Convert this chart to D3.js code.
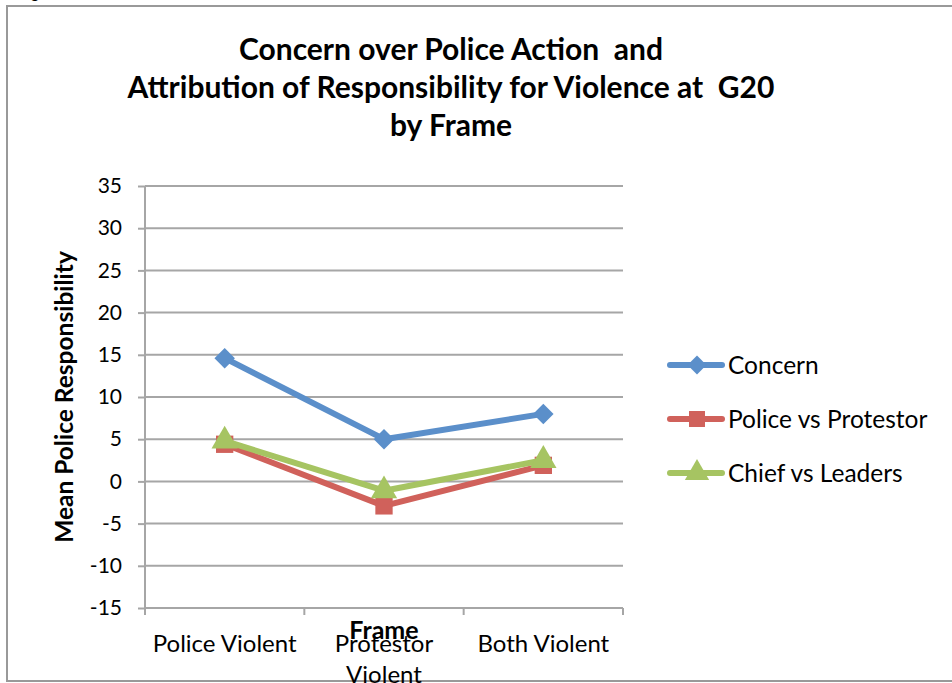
<!DOCTYPE html>
<html>
<head>
<meta charset="utf-8">
<script src="https://cdn.jsdelivr.net/npm/d3@7"></script>
<style>
  body { margin: 0; background: #fff; }
  text { font-family: Lato, "Liberation Sans", sans-serif; fill: #000; white-space: pre; }
</style>
</head>
<body>
<div id="chart-area"></div>
<script>
// data
var frames = ["Police Violent", "Protestor Violent", "Both Violent"];
var seriesNames = ["Concern", "Police vs Protestor", "Chief vs Leaders"];
var concern = [14.6, 5.0, 8.0];
var policeVsProtestor = [4.4, -2.9, 1.9];
var chiefVsLeaders = [4.8, -1.1, 2.5];
var yTicks = [35, 30, 25, 20, 15, 10, 5, 0, -5, -10, -15];
var titleLines = ["Concern over Police Action  and", "Attribution of Responsibility for Violence at  G20", "by Frame"];

var lineColors = ["#5b8fca", "#d0615b", "#a6c462"];
var symbols = [d3.symbolSquare, d3.symbolSquare, d3.symbolTriangle];
var symRotate = [45, 0, 0];
var symSize = [210, 300, 300];
var allSeries = [concern, policeVsProtestor, chiefVsLeaders];

var svg = d3.select("#chart-area").append("svg")
     .attr("width", 952)
     .attr("height", 683);

// outer chart frame
svg.append("rect")
     .attr("x", 7).attr("y", 6)
     .attr("width", 1000).attr("height", 675)
     .attr("fill", "none")
     .attr("stroke", "#999")
     .attr("stroke-width", 2);

svg.append("text")
     .attr("x", 18).attr("y", -2)
     .style("font-size", "16px")
     .text("Figure");

var x = d3.scaleBand()
     .domain(frames)
     .range([145, 623]);

var y = d3.scaleLinear()
     .domain([-15, 35])
     .range([608, 186]);

// gridlines
svg.append("g")
     .selectAll("line")
     .data(yTicks)
     .enter()
     .append("line")
     .attr("x1", 145).attr("x2", 623)
     .attr("y1", (d) => { return y(d); })
     .attr("y2", (d) => { return y(d); })
     .attr("stroke", "#a6a6a6")
     .attr("stroke-width", 2);

// y axis
var yAxis = svg.append("g")
     .attr("transform", "translate(145,0)")
     .call(d3.axisLeft(y).tickValues(yTicks).tickSize(7).tickPadding(16).tickFormat((d) => { return String(d); }));
yAxis.selectAll("line, path").attr("stroke", "#a6a6a6").attr("stroke-width", 2);
yAxis.select("path").attr("d", "M0," + y(35) + "V" + y(-15));
yAxis.selectAll("text")
     .style("font-size", "21px")
     .style("font-family", "Lato, sans-serif")
     .attr("fill", "#000");

// x axis
var xAxis = svg.append("g")
     .attr("transform", "translate(0," + y(-15) + ")")
     .call(d3.axisBottom(x).tickSize(0).tickFormat(""));
xAxis.select("path").attr("d", "M145,0H623").attr("stroke", "#a6a6a6").attr("stroke-width", 2);
xAxis.selectAll(".tick").remove();
xAxis.selectAll(".xtick")
     .data([145, 145 + x.bandwidth(), 145 + 2 * x.bandwidth(), 623])
     .enter()
     .append("line")
     .attr("x1", (d) => { return d; }).attr("x2", (d) => { return d; })
     .attr("y1", 0).attr("y2", 7)
     .attr("stroke", "#a6a6a6").attr("stroke-width", 2);

// category labels (wrap long ones like Excel does)
frames.forEach((f) => {
     var lines = (f === "Protestor Violent") ? ["Protestor", "Violent"] : [f];
     var t = svg.append("text")
          .attr("text-anchor", "middle")
          .style("font-size", "24px");
     lines.forEach((l, i) => {
          t.append("tspan")
               .attr("x", x(f) + x.bandwidth() / 2)
               .attr("y", 652 + i * 31)
               .text(l);
     });
});

// axis titles
svg.append("text")
     .attr("x", x("Protestor Violent") + x.bandwidth() / 2)
     .attr("y", 639)
     .attr("text-anchor", "middle")
     .style("font-size", "25px")
     .style("font-weight", "bold")
     .text("Frame");

svg.append("text")
     .attr("transform", "translate(73,397) rotate(-90)")
     .attr("text-anchor", "middle")
     .style("font-size", "24.5px")
     .style("font-weight", "bold")
     .text("Mean Police Responsibility");

// title
svg.append("g")
     .selectAll("text")
     .data(titleLines)
     .enter()
     .append("text")
     .attr("x", 451)
     .attr("y", (d, i) => { return 60 + i * 38; })
     .attr("text-anchor", "middle")
     .style("font-size", "30px")
     .style("font-weight", "bold")
     .text((d) => { return d; });

// lines + markers
var line = d3.line()
     .x((d, i) => { return x(frames[i]) + x.bandwidth() / 2; })
     .y((d) => { return y(d); });

allSeries.forEach((s, k) => {
     var g = svg.append("g");
     g.append("path")
          .attr("d", line(s))
          .attr("fill", "none")
          .attr("stroke", lineColors[k])
          .attr("stroke-width", 6)
          .attr("stroke-linejoin", "round");
     g.selectAll("path.marker")
          .data(s)
          .enter()
          .append("path")
          .attr("class", "marker")
          .attr("transform", (d, i) => { return "translate(" + (x(frames[i]) + x.bandwidth() / 2) + "," + y(d) + ") rotate(" + symRotate[k] + ")"; })
          .attr("d", d3.symbol().type(symbols[k]).size(symSize[k]))
          .attr("fill", lineColors[k]);
});

// legend
var legend = svg.append("g");
seriesNames.forEach((n, k) => {
     var ly = 365 + k * 54;
     legend.append("line")
          .attr("x1", 670).attr("x2", 722)
          .attr("y1", ly).attr("y2", ly)
          .attr("stroke", lineColors[k])
          .attr("stroke-width", 6)
          .attr("stroke-linecap", "round");
     legend.append("path")
          .attr("transform", "translate(697," + ly + ") rotate(" + symRotate[k] + ")")
          .attr("d", d3.symbol().type(symbols[k]).size(symSize[k] * 0.85))
          .attr("fill", lineColors[k]);
     legend.append("text")
          .attr("x", 728)
          .attr("y", ly + 9)
          .style("font-size", "24.5px")
          .text(n);
});
</script>
</body>
</html>
